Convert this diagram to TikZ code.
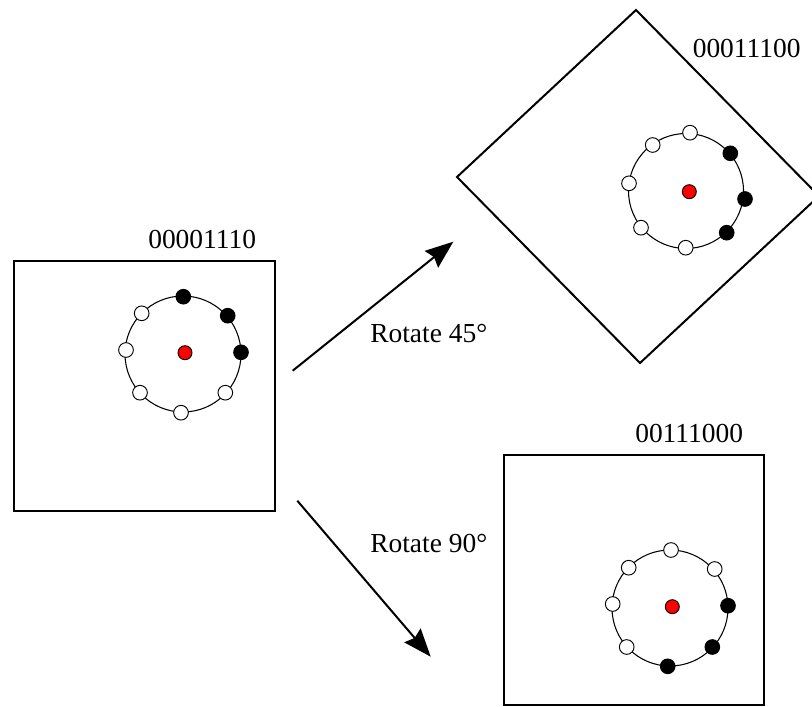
\documentclass[tikz,border=0pt]{standalone}
\usepackage{fontspec}
\setmainfont{Liberation Serif}
\usetikzlibrary{arrows.meta}
\begin{document}
\begin{tikzpicture}[x=0.75pt,y=-0.75pt,
  frame/.style={draw, line width=1.5pt, line join=miter},
  ring/.style={draw, line width=0.8pt},
  bit/.style={circle, draw, line width=0.7pt, minimum size=11pt, inner sep=0pt},
  on/.style={bit, fill=black},
  off/.style={bit, fill=white},
  pivot/.style={bit, fill=red, minimum size=10.5pt},
  code/.style={font=\fontsize{20.6}{24}\selectfont, inner sep=0pt, anchor=base west},
  move/.style={line width=1.5pt, -{Stealth[length=21pt, width=16pt, inset=2.5pt]}},
]
\useasboundingbox (0,0) rectangle (812,706);

% ---- original pattern ----
\draw[frame] (14,261) rectangle (275,511);
\node[code] (codeA) at (148,248.3) {00001110};
\draw[ring] (183,354) circle[radius=58];
\node[on]  (a1) at (183.3,296.7) {};
\node[on]  (a2) at (227.7,315.7) {};
\node[on]  (a3) at (241,352.3) {};
\node[off] (a4) at (225.3,392.7) {};
\node[off] (a5) at (181,412.7) {};
\node[off] (a6) at (140,392.7) {};
\node[off] (a7) at (126,350) {};
\node[off] (a8) at (141.7,313.3) {};
\node[pivot] (ac) at (185,352.7) {};

% ---- rotated by 45 degrees ----
\draw[frame] (636,10) -- (819,196) -- (640,363) -- (457,177) -- cycle;
\node[code] (codeB) at (692.5,57.3) {00011100};
\draw[ring] (686,191) circle[radius=57.5];
\node[off] (b1) at (690,132.7) {};
\node[on]  (b2) at (730.3,153.3) {};
\node[on]  (b3) at (745,199) {};
\node[on]  (b4) at (726.7,232.7) {};
\node[off] (b5) at (685.7,247.7) {};
\node[off] (b6) at (641,227.7) {};
\node[off] (b7) at (629,183.3) {};
\node[off] (b8) at (652.7,145) {};
\node[pivot] (bc) at (689.3,191.7) {};

% ---- rotated by 90 degrees ----
\draw[frame] (504,455) rectangle (764,705);
\node[code] (codeC) at (635,442.3) {00111000};
\draw[ring] (670,608) circle[radius=58];
\node[off] (c1) at (671,550) {};
\node[off] (c2) at (714.7,569) {};
\node[on]  (c3) at (728,605.7) {};
\node[on]  (c4) at (712.3,647) {};
\node[on]  (c5) at (667.7,666.3) {};
\node[off] (c6) at (626.7,647) {};
\node[off] (c7) at (612.7,604) {};
\node[off] (c8) at (628.7,567.7) {};
\node[pivot] (cc) at (672.3,606.7) {};

% ---- transformation arrows ----
\coordinate (s1) at (292.7,370.7);
\coordinate (t1) at (453.3,241.7);
\coordinate (s2) at (297.3,500.7);
\coordinate (t2) at (430.7,656.7);
\draw[move] (s1) -- (t1);
\draw[move] (s2) -- (t2);
\node[code] (lab1) at (370,342.3) {Rotate 45°};
\node[code] (lab2) at (370,552.3) {Rotate 90°};
\end{tikzpicture}
\end{document}
